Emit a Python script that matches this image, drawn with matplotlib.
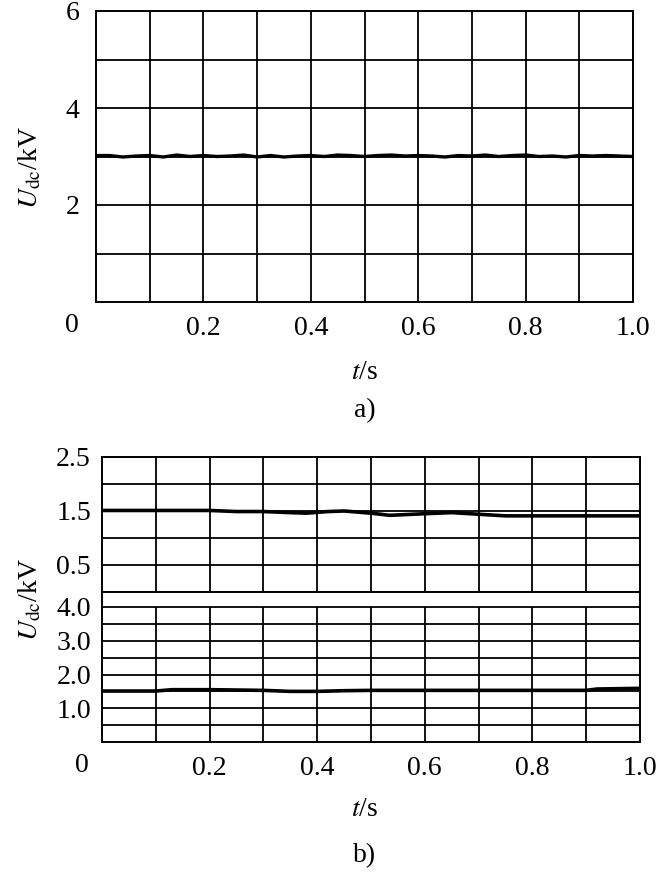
import numpy as np
import matplotlib
matplotlib.use("Agg")
import matplotlib.pyplot as plt

plt.rcParams['font.family'] = ['Liberation Serif', 'DejaVu Serif']
plt.rcParams['mathtext.fontset'] = 'stix'

# panel a) : DC voltage, nearly flat at 3 kV with small ripple
t_a = [0.00, 0.025, 0.05, 0.075, 0.10, 0.125, 0.15, 0.175, 0.20, 0.225,
       0.25, 0.275, 0.30, 0.325, 0.35, 0.375, 0.40, 0.425, 0.45, 0.475,
       0.50, 0.525, 0.55, 0.575, 0.60, 0.625, 0.65, 0.675, 0.70, 0.725,
       0.75, 0.775, 0.80, 0.825, 0.85, 0.875, 0.90, 0.925, 0.95, 0.975, 1.00]
u_a = [3.02, 3.02, 2.99, 3.01, 3.02, 2.99, 3.03, 3.00, 3.02, 3.00,
       3.01, 3.03, 2.99, 3.02, 2.99, 3.01, 3.02, 3.00, 3.03, 3.02,
       3.00, 3.02, 3.03, 3.01, 3.02, 3.01, 2.99, 3.02, 3.01, 3.03,
       3.00, 3.02, 3.03, 3.00, 3.01, 2.99, 3.02, 3.01, 3.02, 3.01, 3.00]

# panel b) : upper and lower traces
t_b1 = [0.00, 0.10, 0.20, 0.25, 0.30, 0.35, 0.38, 0.42, 0.45, 0.50,
        0.535, 0.60, 0.65, 0.70, 0.75, 0.80, 0.90, 1.00]
u_b1 = [1.51, 1.51, 1.51, 1.49, 1.49, 1.47, 1.46, 1.49, 1.50, 1.46,
        1.42, 1.45, 1.47, 1.44, 1.41, 1.41, 1.41, 1.41]
t_b2 = [0.00, 0.10, 0.13, 0.20, 0.30, 0.35, 0.40, 0.45, 0.50, 0.60,
        0.70, 0.80, 0.90, 0.92, 1.00]
u_b2 = [1.51, 1.51, 1.55, 1.55, 1.53, 1.50, 1.50, 1.52, 1.53, 1.53,
        1.53, 1.53, 1.53, 1.57, 1.59]

xticks = [0.2, 0.4, 0.6, 0.8, 1.0]
fs = 20

fig = plt.figure(figsize=(6.56, 8.73), dpi=100)
W, H = 656.0, 873.0

def box(l, t, r, b):
    return [l / W, 1 - b / H, (r - l) / W, (b - t) / H]

def style(ax):
    for s in ax.spines.values():
        s.set_linewidth(1.4)
    ax.tick_params(length=0, labelsize=fs)
    ax.set_xlim(0, 1)

# ---- a)
ax = fig.add_axes(box(96, 11, 633, 302))
style(ax)
ax.set_ylim(0, 6)
ax.set_xticks(np.arange(0.1, 1.0, 0.1), minor=True)
ax.set_yticks(np.arange(1, 6, 1), minor=True)
ax.set_xticks(xticks)
ax.set_xticklabels(['0.2', '0.4', '0.6', '0.8', '1.0'])
ax.set_yticks([2, 4, 6])
ax.tick_params(which='minor', length=0)
ax.tick_params(axis='y', pad=12)
ax.tick_params(axis='x', pad=10)
ax.grid(True, which='both', color='black', lw=1.3)
ax.plot(t_a, u_a, color='black', lw=2.4)
fig.text(72 / W, 1 - 325 / H, '0', fontsize=fs, ha='center', va='center')
fig.text(365 / W, 1 - 372 / H, r'$t$/s', fontsize=fs, ha='center', va='center')
fig.text(365 / W, 1 - 411 / H, 'a)', fontsize=fs, ha='center', va='center')
fig.text(30 / W, 1 - 168 / H, r'$U_{\rm dc}$/kV', fontsize=fs, ha='center',
         va='center', rotation=90)

# ---- b) upper
ax1 = fig.add_axes(box(102, 457, 640, 592))
style(ax1)
ax1.set_ylim(0, 2.5)
ax1.set_xticks(np.arange(0.1, 1.0, 0.1), minor=True)
ax1.set_yticks(np.arange(0.5, 2.5, 0.5), minor=True)
ax1.set_xticks([])
ax1.set_yticks([0.5, 1.5, 2.5])
ax1.set_yticklabels(['0.5', '1.5', '2.5'])
ax1.tick_params(which='minor', length=0)
ax1.tick_params(axis='y', pad=8)
ax1.grid(True, which='both', color='black', lw=1.3)
ax1.plot(t_b1, u_b1, color='black', lw=2.6)

# ---- b) lower (blank band at top)
ax2 = fig.add_axes(box(102, 592, 640, 742))
style(ax2)
ax2.set_ylim(0, 4.0 * 150 / 135)
ax2.set_xticks(xticks)
ax2.set_xticklabels(['0.2', '0.4', '0.6', '0.8', '1.0'])
ax2.set_yticks([1.0, 2.0, 3.0, 4.0])
ax2.set_yticklabels(['1.0', '2.0', '3.0', '4.0'])
ax2.tick_params(axis='y', pad=8)
ax2.tick_params(axis='x', pad=10)
for y in np.arange(0.5, 4.01, 0.5):
    ax2.axhline(y, color='black', lw=1.3)
ax2.vlines(np.arange(0.1, 1.0, 0.1), 0, 4.0, color='black', lw=1.3)
ax2.plot(t_b2, u_b2, color='black', lw=2.6)
fig.text(82 / W, 1 - 766 / H, '0', fontsize=fs, ha='center', va='center')
fig.text(365 / W, 1 - 810 / H, r'$t$/s', fontsize=fs, ha='center', va='center')
fig.text(365 / W, 1 - 856 / H, 'b)', fontsize=fs, ha='center', va='center')
fig.text(30 / W, 1 - 600 / H, r'$U_{\rm dc}$/kV', fontsize=fs, ha='center',
         va='center', rotation=90)

fig.savefig('out.png', dpi=100)
